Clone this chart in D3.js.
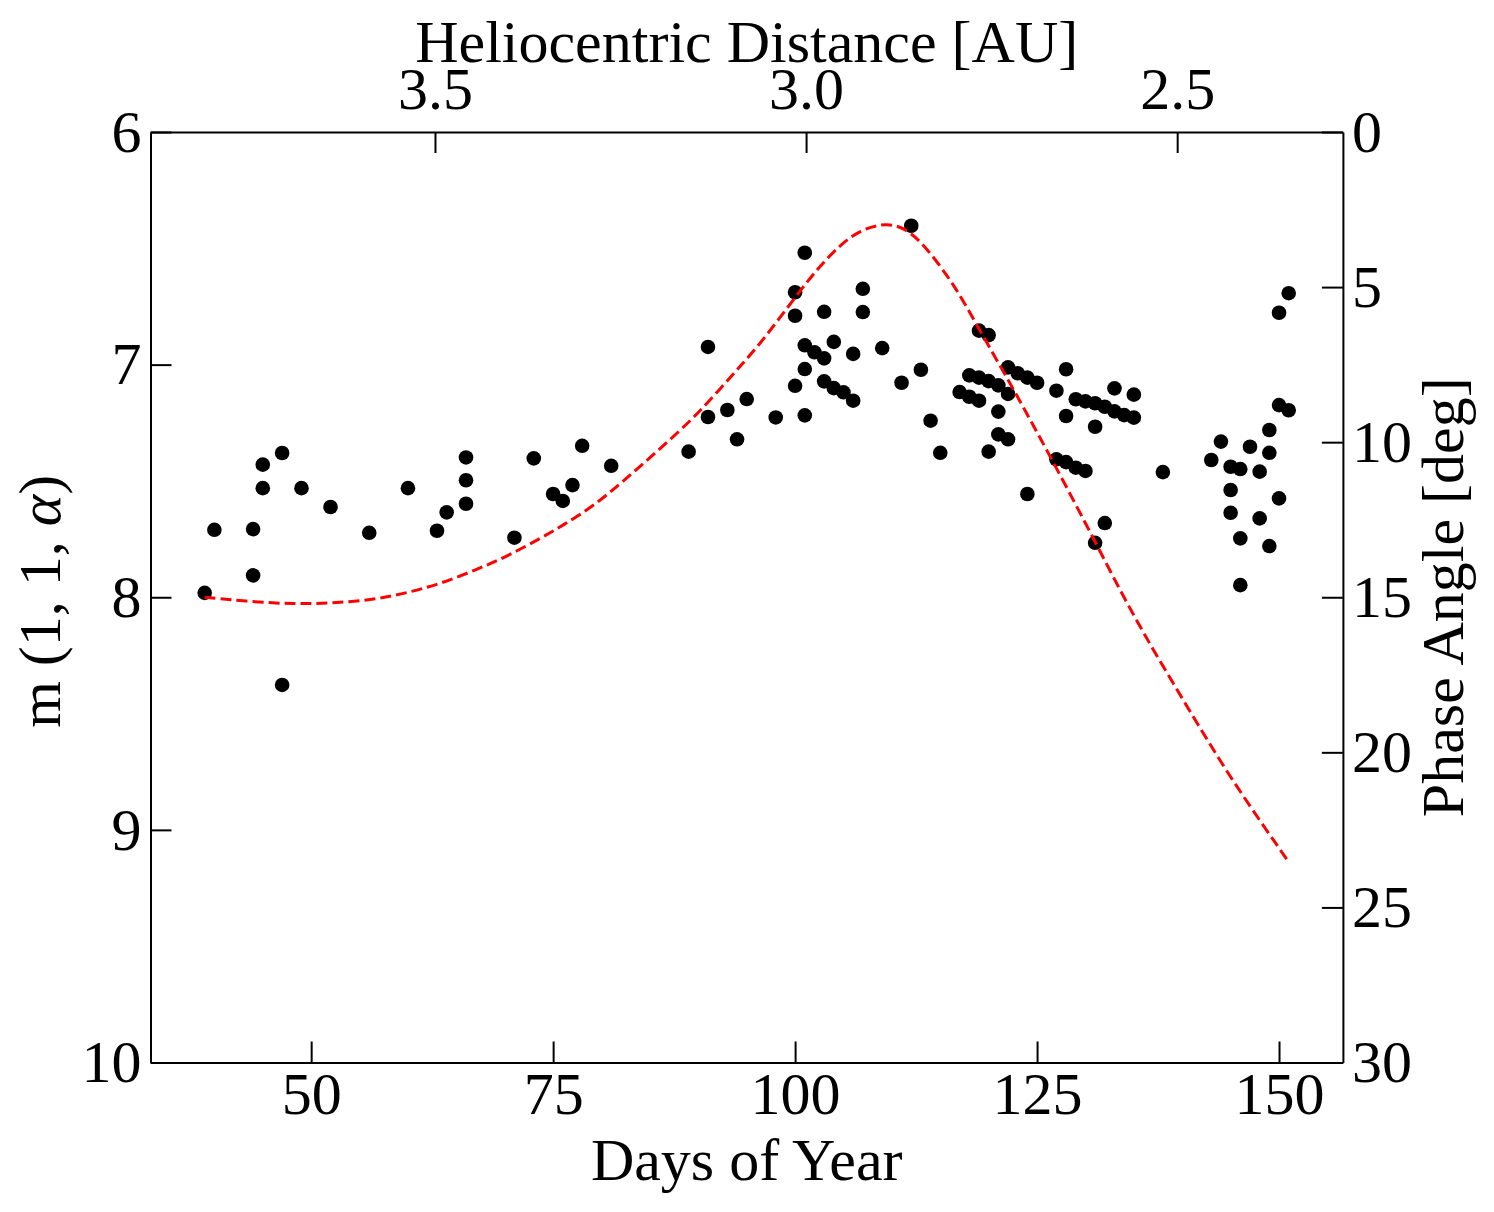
<!DOCTYPE html>
<html>
<head>
<meta charset="utf-8">
<script src="https://cdn.jsdelivr.net/npm/d3@7"></script>
<style>
  html, body { margin: 0; padding: 0; background: #ffffff; }
  svg { display: block; }
</style>
</head>
<body>
<svg id="chart" width="1494" height="1212"></svg>
<script>
// ---------- data ----------
const obsDays = [
  39, 40, 44, 44, 45, 45, 47, 47, 49, 52, 56, 60, 63, 64, 66, 66, 66, 71, 73, 75, 76, 77, 78, 81,
  89, 91, 91, 93, 94, 95, 98,
  100, 100, 100, 101, 101, 101, 101, 102, 103, 103, 103, 104, 104, 105, 106, 106, 107, 107, 109,
  111, 112, 113, 114, 115, 117, 118, 118, 119, 119, 119, 120, 120, 120, 121, 121, 121,
  122, 122, 122, 123, 124, 124, 125, 127, 127, 128, 128, 128, 129, 129, 130, 130,
  131, 131, 131, 132, 132, 133, 133, 134, 135, 135, 138,
  143, 144, 145, 145, 145, 146, 146, 146, 147, 148, 148, 149, 149, 149, 150, 150, 150, 151, 151
];
const obsMag = [
  7.981, 7.710, 7.707, 7.906, 7.430, 7.531, 7.380, 8.377, 7.531, 7.612, 7.723, 7.531, 7.714, 7.635, 7.399, 7.497, 7.598, 7.744, 7.403, 7.556, 7.586, 7.518, 7.349, 7.435,
  7.374, 6.924, 7.225, 7.195, 7.321, 7.148, 7.227,
  6.689, 6.790, 7.091, 6.519, 6.917, 7.019, 7.218, 6.947, 6.773, 6.973, 7.072, 6.902, 7.101, 7.119, 6.954, 7.155, 6.674, 6.774, 6.929,
  7.078, 6.403, 7.022, 7.241, 7.379, 7.118, 7.046, 7.138, 6.854, 7.056, 7.155, 6.873, 7.071, 7.374, 7.089, 7.202, 7.300,
  7.012, 7.126, 7.321, 7.037, 7.056, 7.556, 7.078, 7.112, 7.407, 7.020, 7.221, 7.419, 7.149, 7.443, 7.158, 7.457,
  7.166, 7.267, 7.766, 7.181, 7.681, 7.102, 7.201, 7.217, 7.129, 7.228, 7.462,
  7.410, 7.331, 7.439, 7.539, 7.637, 7.449, 7.747, 7.948, 7.353, 7.460, 7.661, 7.281, 7.379, 7.780, 6.777, 7.174, 7.575, 6.693, 7.196
];

// phase angle curve (right axis, degrees)
const curveDays  = [39, 44, 48.3, 52, 56.4, 60, 63.3, 67, 70.2, 74, 76.05, 79.1, 82.2, 85.7, 89.5, 92.2, 94.6, 96.7, 100.2, 102.2, 104.6, 106.7, 109.4, 111.5, 113.5, 115.8, 117.4, 119.1, 122.5, 126.7, 131, 133.9, 137, 140.1, 143.2, 146.3, 150.9];
const curvePhase = [15.0, 15.15, 15.22, 15.19, 15.09, 14.85, 14.57, 14.12, 13.69, 13.05, 12.67, 12.08, 11.27, 10.31, 9.23, 8.30, 7.46, 6.71, 5.25, 4.45, 3.65, 3.16, 2.92, 3.11, 3.70, 4.66, 5.45, 6.41, 8.25, 10.65, 13.2, 14.98, 16.70, 18.31, 19.92, 21.43, 23.49];

// ticks
const dayTicks   = [50, 75, 100, 125, 150];
const magTicks   = [6, 7, 8, 9, 10];
const phaseTicks = [0, 5, 10, 15, 20, 25, 30];
const distTicks  = [3.5, 3.0, 2.5];

// ---------- layout ----------
const L = 150.5, R = 1342.9, T = 132, B = 1062.5;
const FONT = "'Liberation Serif', 'Times New Roman', serif";
const FS = 60;

const svg = d3.select("#chart");
svg.append("rect").attr("width", 1494).attr("height", 1212).attr("fill", "#ffffff");

const x    = d3.scaleLinear().domain([33.4, 156.6]).range([L, R]);
const xTop = d3.scaleLinear().domain([3.8833, 2.2767]).range([L, R]);
const y    = d3.scaleLinear().domain([6, 10]).range([T, B]);
const yR   = d3.scaleLinear().domain([0, 30]).range([T, B]);

const TICK = 21;

function styleAxis(g) {
  g.attr("font-family", FONT).attr("font-size", FS);
  g.select(".domain").attr("stroke", "#000").attr("stroke-width", 2);
  g.selectAll(".tick line").attr("stroke", "#000").attr("stroke-width", 2);
  g.selectAll(".tick text").attr("fill", "#000");
}

// bottom
svg.append("g").attr("transform", `translate(0,${B})`)
  .call(d3.axisBottom(x).tickValues(dayTicks).tickFormat(d3.format("d"))
        .tickSizeInner(-TICK).tickSizeOuter(0).tickPadding(9))
  .call(styleAxis);

// top
svg.append("g").attr("transform", `translate(0,${T})`)
  .call(d3.axisTop(xTop).tickValues(distTicks).tickFormat(d3.format(".1f"))
        .tickSizeInner(-TICK).tickSizeOuter(0).tickPadding(23))
  .call(styleAxis);

// left
svg.append("g").attr("transform", `translate(${L},0)`)
  .call(d3.axisLeft(y).tickValues(magTicks).tickFormat(d3.format("d"))
        .tickSizeInner(-TICK).tickSizeOuter(0).tickPadding(9))
  .call(styleAxis);

// right
svg.append("g").attr("transform", `translate(${R},0)`)
  .call(d3.axisRight(yR).tickValues(phaseTicks).tickFormat(d3.format("d"))
        .tickSizeInner(-TICK).tickSizeOuter(0).tickPadding(9))
  .call(styleAxis);

// ---------- marks ----------
svg.append("g").selectAll("circle")
  .data(obsDays.map((d, i) => [d, obsMag[i]]))
  .join("circle")
  .attr("cx", d => x(d[0]))
  .attr("cy", d => y(d[1]))
  .attr("r", 7.3)
  .attr("fill", "#000");

const line = d3.line()
  .x(d => x(d[0]))
  .y(d => yR(d[1]))
  .curve(d3.curveBasis);

svg.append("path")
  .datum(curveDays.map((d, i) => [d, curvePhase[i]]))
  .attr("d", line)
  .attr("fill", "none")
  .attr("stroke", "#ff0000")
  .attr("stroke-width", 3)
  .attr("stroke-dasharray", "11,5");

// ---------- labels ----------
svg.append("text")
  .attr("x", (L + R) / 2).attr("y", 1180)
  .attr("text-anchor", "middle")
  .attr("font-family", FONT).attr("font-size", FS)
  .text("Days of Year");

svg.append("text")
  .attr("x", (L + R) / 2).attr("y", 62)
  .attr("text-anchor", "middle")
  .attr("font-family", FONT).attr("font-size", FS)
  .text("Heliocentric Distance [AU]");

const yl = svg.append("text")
  .attr("transform", `translate(60,${(T + B) / 2 + 4}) rotate(-90)`)
  .attr("text-anchor", "middle")
  .attr("font-family", FONT).attr("font-size", FS);
yl.append("tspan").text("m (1, 1, ");
yl.append("tspan").attr("font-style", "italic").text("α");
yl.append("tspan").text(")");

svg.append("text")
  .attr("transform", `translate(1463,${(T + B) / 2}) rotate(-90)`)
  .attr("text-anchor", "middle")
  .attr("font-family", FONT).attr("font-size", FS)
  .text("Phase Angle [deg]");
</script>
</body>
</html>
